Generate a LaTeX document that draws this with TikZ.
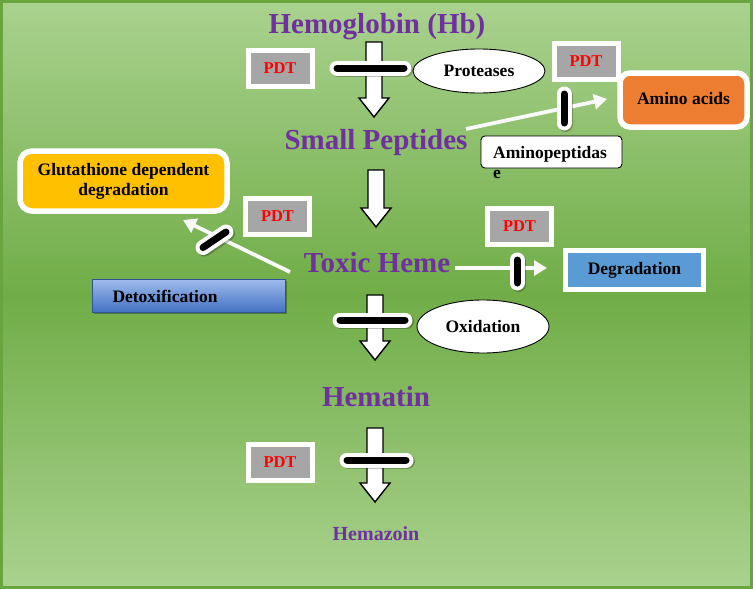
\documentclass[tikz,border=0pt]{standalone}
\usepackage{fontspec}
\setmainfont{Liberation Serif}
\usetikzlibrary{calc,shadows,shapes.geometric,arrows.meta}
\definecolor{bglight}{RGB}{170,210,143}
\definecolor{bgdark}{RGB}{112,173,71}
\definecolor{bgborder}{RGB}{104,165,62}
\definecolor{hpurple}{RGB}{112,48,160}
\definecolor{pdtgray}{RGB}{166,166,166}
\definecolor{aorange}{RGB}{237,125,49}
\definecolor{gyellow}{RGB}{255,192,0}
\definecolor{dblue}{RGB}{91,155,213}
\definecolor{detoxtop}{RGB}{160,188,235}
\definecolor{detoxbot}{RGB}{68,114,196}
\definecolor{detoxedge}{RGB}{47,85,151}
\newcommand\hollowdown[2]{\draw[hollowarrow] let \p1=(#1), \p2=(#2) in
  (\x1-8pt,\y1) -- (\x1+8pt,\y1) -- (\x1+8pt,\y2+19pt) -- (\x1+15pt,\y2+19pt) --
  (\x1,\y2) -- (\x1-15pt,\y2+19pt) -- (\x1-8pt,\y2+19pt) -- cycle;}
\newcommand\inhibitor[2]{%
  \draw[line width=15pt, line cap=round, black, opacity=0.25]
    ([shift={(1.5pt,-1.5pt)}]#1) -- ([shift={(1.5pt,-1.5pt)}]#2);
  \draw[line width=15pt, line cap=round, white] (#1) -- (#2);
  \draw[line width=7pt, line cap=round, black] (#1) -- (#2);}
\begin{document}
\begin{tikzpicture}[x=1pt,y=-1pt,
  heading/.style={font=\bfseries\fontsize{29}{32}\selectfont, text=hpurple, inner sep=0, anchor=base},
  lbl/.style={font=\bfseries\fontsize{17.5}{20}\selectfont, text=black},
  softshadow/.style={drop shadow={opacity=0.3, shadow xshift=2pt, shadow yshift=-2pt, fill=black}},
  pdtbox/.style={draw=white, line width=5pt, fill=pdtgray, minimum width=64pt, minimum height=36pt,
    inner sep=0, text=red, font=\bfseries\fontsize{16.5}{18}\selectfont, softshadow},
  whitebox/.style={draw=white, line width=5.5pt, inner sep=0, lbl, softshadow},
  bubble/.style={ellipse, draw=black, line width=0.9pt, fill=white, inner sep=0, lbl},
  hollowarrow/.style={draw=black, line width=1.4pt, fill=white, line join=miter},
  thinarrow/.style={draw=white!95!gray, line width=3.8pt, -{Triangle[width=15pt,length=13pt]}}
]
\useasboundingbox (0,0) rectangle (753,589);
% background
\shade[top color=bglight, bottom color=bglight, middle color=bgdark] (0,0) rectangle (753,589);
\draw[bgborder, line width=3pt] (1.5,1.5) rectangle (751.5,587.5);

% main pathway texts
\node[heading] (hb) at (377,33) {Hemoglobin (Hb)};
\node[heading] (sp) at (376,149) {Small Peptides};
\node[heading] (th) at (377,272) {Toxic Heme};
\node[heading] (hm) at (376,406) {Hematin};
\node[heading, font=\bfseries\fontsize{20}{22}\selectfont] (hz) at (376,540) {Hemazoin};

% side boxes
\node[pdtbox] (p1) at (280,68.5) {PDT};
\node[pdtbox] (p2) at (586,61) {PDT};
\node[pdtbox] (p3) at (277.5,216.5) {PDT};
\node[pdtbox] (p4) at (519.5,226.5) {PDT};
\node[pdtbox] (p5) at (280,462) {PDT};

\node[bubble, minimum width=132pt, minimum height=44pt] (prot) at (479,71) {Proteases};
\node[bubble, minimum width=132pt, minimum height=53pt] (oxi) at (483,326.5) {Oxidation};

\node[whitebox, fill=aorange, rounded corners=10pt, minimum width=127pt, minimum height=54pt] (aa) at (683.5,100) {\raisebox{4pt}{Amino acids}};
\node[whitebox, fill=gyellow, rounded corners=12pt, minimum width=207pt, minimum height=60pt, align=center] (glu) at (123.5,181) {Glutathione dependent\\degradation};
\node[whitebox, fill=dblue, line width=5pt, minimum width=138pt, minimum height=39pt] (deg) at (634.5,270) {Degradation};

\node[draw=black, line width=0.9pt, fill=white, rounded corners=4pt, minimum width=141pt, minimum height=32pt] (apbox) at (551.5,152) {};
\node[lbl, anchor=base west, align=left, inner sep=0] (aptext) at (493,178) {Aminopeptidas\\e};

\node[draw=detoxedge, line width=0.8pt, top color=detoxtop, bottom color=detoxbot, minimum width=193pt, minimum height=33pt, inner sep=0, softshadow] (detox) at (188.5,295.5) {};
\node[lbl] (detoxlabel) at (165,296.5) {Detoxification};

% hollow arrows along the main pathway
\coordinate (a1top) at (374,42);  \coordinate (a1tip) at (374,117);
\coordinate (a2top) at (376,170); \coordinate (a2tip) at (376,227);
\coordinate (a3top) at (375,295); \coordinate (a3tip) at (375,360);
\coordinate (a4top) at (375,428); \coordinate (a4tip) at (375,502);
\hollowdown{a1top}{a1tip}
\hollowdown{a2top}{a2tip}
\hollowdown{a3top}{a3tip}
\hollowdown{a4top}{a4tip}

% thin branch arrows
\coordinate (t1s) at (466,129); \coordinate (t1e) at (607,99);
\coordinate (t2s) at (290,272); \coordinate (t2e) at (183,220);
\coordinate (t3s) at (455,268); \coordinate (t3e) at (547,268);
\draw[thinarrow] (t1s) -- (t1e);
\draw[thinarrow] (t2s) -- (t2e);
\draw[thinarrow] (t3s) -- (t3e);

% inhibitor bars
\coordinate (i1a) at (337,68);  \coordinate (i1b) at (404,68);
\coordinate (i2a) at (564,94);  \coordinate (i2b) at (564,123);
\coordinate (i3a) at (203,247.5); \coordinate (i3b) at (226,232);
\coordinate (i4a) at (517,260); \coordinate (i4b) at (517,283);
\coordinate (i5a) at (340,320); \coordinate (i5b) at (405,320);
\coordinate (i6a) at (347,460); \coordinate (i6b) at (406,460);
\inhibitor{i1a}{i1b}
\inhibitor{i2a}{i2b}
\inhibitor{i3a}{i3b}
\inhibitor{i4a}{i4b}
\inhibitor{i5a}{i5b}
\inhibitor{i6a}{i6b}
\end{tikzpicture}
\end{document}
